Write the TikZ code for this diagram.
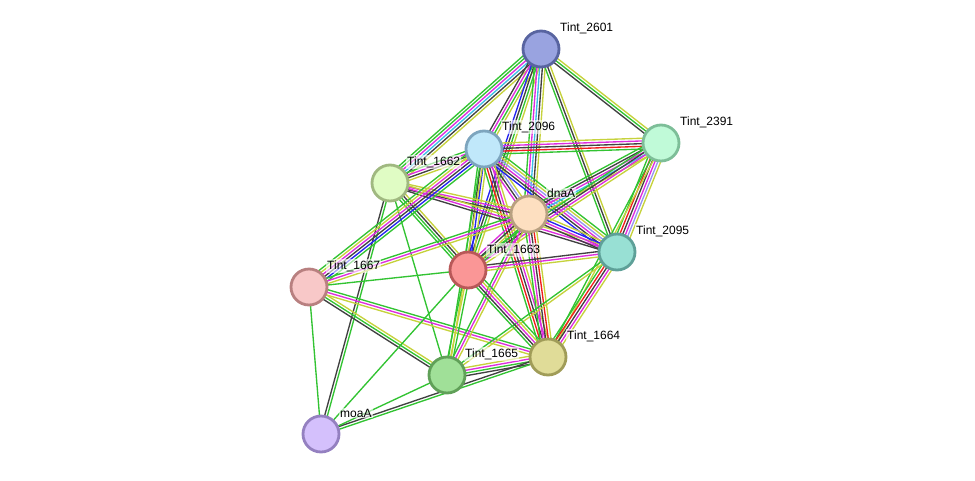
\documentclass[tikz,border=0pt]{standalone}
\usepackage{fontspec}
\setmainfont{Liberation Sans}
\usetikzlibrary{calc,backgrounds}

\definecolor{eg}{RGB}{50,195,50}
\definecolor{ey}{RGB}{198,210,60}
\definecolor{ek}{RGB}{65,65,65}
\definecolor{em}{RGB}{222,45,222}
\definecolor{ec}{RGB}{60,190,230}
\definecolor{eb}{RGB}{35,35,240}
\definecolor{er}{RGB}{240,30,30}
\definecolor{ep}{RGB}{150,150,240}

% parallel evidence lines between two proteins
\newcommand\evlinks[3]{%
  \foreach \c [count=\i] in {#3} {\xdef\nlinks{\i}}
  \foreach \c [count=\i] in {#3} {
    \pgfmathsetmacro\off{(\i-(\nlinks+1)/2)*2.7}
    \draw[link,\c] ($(#1)!\off pt!90:(#2)$) -- ($(#2)!\off pt!-90:(#1)$);
  }}

\begin{document}
\begin{tikzpicture}[x=1pt,y=-1pt,
    prot/.style={draw,circle,minimum size=36pt,inner sep=0pt,line width=2.8pt},
    plabel/.style={anchor=west,inner sep=1pt,fill=white,fill opacity=0.6,text opacity=1,font=\fontsize{12}{14}\selectfont},
    link/.style={line width=1.35pt}]
  \useasboundingbox (0,0) rectangle (975,480);

  \node[prot,fill={rgb,255:red,153;green,163;blue,224},draw={rgb,255:red,88;green,100;blue,160}] (t2601) at (541,49) {};
  \node[prot,fill={rgb,255:red,192;green,250;blue,216},draw={rgb,255:red,125;green,190;blue,152}] (t2391) at (661,143) {};
  \node[prot,fill={rgb,255:red,192;green,232;blue,250},draw={rgb,255:red,125;green,165;blue,190}] (t2096) at (484,149) {};
  \node[prot,fill={rgb,255:red,224;green,252;blue,196},draw={rgb,255:red,160;green,184;blue,128}] (t1662) at (390,183) {};
  \node[prot,fill={rgb,255:red,253;green,223;blue,192},draw={rgb,255:red,184;green,160;blue,128}] (dnaa) at (529,214) {};
  \node[prot,fill={rgb,255:red,152;green,224;blue,212},draw={rgb,255:red,94;green,160;blue,152}] (t2095) at (617,252) {};
  \node[prot,fill={rgb,255:red,250;green,150;blue,150},draw={rgb,255:red,184;green,88;blue,88}] (t1663) at (468,270) {};
  \node[prot,fill={rgb,255:red,248;green,200;blue,200},draw={rgb,255:red,184;green,128;blue,128}] (t1667) at (309,287) {};
  \node[prot,fill={rgb,255:red,224;green,220;blue,152},draw={rgb,255:red,160;green,156;blue,88}] (t1664) at (548,357) {};
  \node[prot,fill={rgb,255:red,160;green,224;blue,152},draw={rgb,255:red,96;green,160;blue,88}] (t1665) at (447,375) {};
  \node[prot,fill={rgb,255:red,212;green,192;blue,252},draw={rgb,255:red,148;green,128;blue,192}] (moaa) at (321,434) {};

  \begin{pgfonlayer}{background}
    \evlinks{t2601}{t1662}{eg,eg,em,ec,ek,ey}
    \evlinks{t2601}{t2096}{ek,em,eg,ey}
    \evlinks{t2601}{t1663}{eb,ek,eg,ey}
    \evlinks{t2601}{dnaa}{eg,em,ec,ek,ey}
    \evlinks{t2601}{t2095}{eg,ek,ey}
    \evlinks{t2601}{t2391}{ek,eg,ey}
    \evlinks{t2096}{t2391}{eg,er,ek,em,ey}
    \evlinks{t2096}{t1662}{eg,em,ek,ey}
    \evlinks{t2096}{dnaa}{em,ek,ep,ey}
    \evlinks{t2096}{t2095}{eb,ek,em,ep,ey,eg}
    \evlinks{t2096}{t1663}{eg,ek,eb,ey}
    \evlinks{t2096}{t1664}{eg,er,ek,em,ey}
    \evlinks{t2096}{t1665}{eg,ey}
    \evlinks{t2391}{dnaa}{eg,ek,em,ec,ey}
    \evlinks{t2391}{t2095}{eg,er,ek,em,ep,ey}
    \evlinks{t2391}{t1663}{eg,ek,em,ey}
    \evlinks{t2391}{t1664}{eg,ey}
    \evlinks{t1662}{dnaa}{ek,em,ey}
    \evlinks{t1662}{t2095}{ek,em,ey}
    \evlinks{t1662}{t1663}{eg,eg,ek,ey}
    \evlinks{t1662}{t1665}{eg}
    \evlinks{t1662}{moaa}{ek,eg}
    \evlinks{t1667}{t2096}{eg,eb,ek,em,ey,eg}
    \evlinks{t1667}{dnaa}{ey,em,eg}
    \evlinks{t1667}{t1663}{eg}
    \evlinks{t1667}{t1664}{ey,em,eg}
    \evlinks{t1667}{t1665}{ek,eg,ey}
    \evlinks{t1667}{moaa}{eg}
    \evlinks{dnaa}{t2095}{ek,em,eb,ey}
    \evlinks{dnaa}{t1663}{em,ek,ey,eg}
    \evlinks{dnaa}{t1664}{eg,em,ek,er,ey}
    \evlinks{dnaa}{t1665}{eg,em,ey}
    \evlinks{t2095}{t1663}{ek,em,ey}
    \evlinks{t2095}{t1664}{eg,er,ek,em,ey}
    \evlinks{t2095}{t1665}{eg,ey}
    \evlinks{t1663}{t1664}{eg,ek,em,ey,eg}
    \evlinks{t1663}{t1665}{eg,ey,eg}
    \evlinks{t1663}{moaa}{eg}
    \evlinks{t1664}{t1665}{ey,em,eg,ek}
    \evlinks{t1664}{moaa}{ek,eg}
    \evlinks{t1665}{moaa}{eg}
  \end{pgfonlayer}

  \node[plabel] (l2601) at (559,28) {Tint\_2601};
  \node[plabel] (l2391) at (679,122) {Tint\_2391};
  \node[plabel] (l2096) at (501,127) {Tint\_2096};
  \node[plabel] (l1662) at (406,162) {Tint\_1662};
  \node[plabel] (ldnaa) at (546,193) {dnaA};
  \node[plabel] (l2095) at (635,231) {Tint\_2095};
  \node[plabel] (l1663) at (486,250) {Tint\_1663};
  \node[plabel] (l1667) at (326,266) {Tint\_1667};
  \node[plabel] (l1664) at (566,336) {Tint\_1664};
  \node[plabel] (l1665) at (464,354) {Tint\_1665};
  \node[plabel] (lmoaa) at (339,413) {moaA};
\end{tikzpicture}
\end{document}
